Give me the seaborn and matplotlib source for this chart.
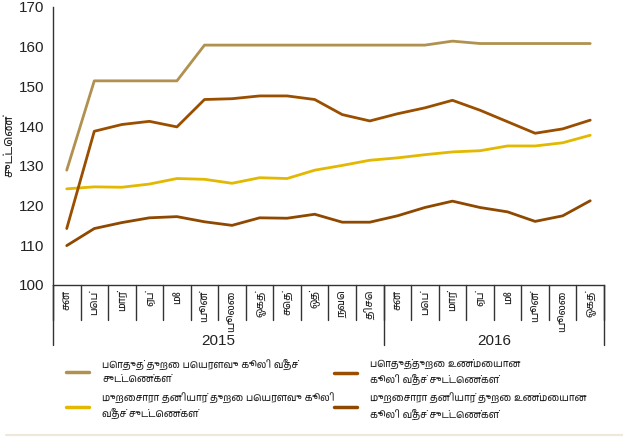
"""
Wage rate indices, public sector vs informal private sector (2015-2016).
Line chart with Tamil month labels and a two-column legend below.
"""

import pandas as pd
import matplotlib
matplotlib.use('Agg')
import matplotlib.pyplot as plt
import seaborn as sns
from matplotlib import font_manager
from matplotlib.ft2font import FT2Font

# --- data ---
months = ['சன', 'பெப்', 'மார்', 'ஏப்', 'மே', 'யூன்', 'யூலை', 'ஓகத்', 'செத்', 'ஒத்', 'நவெ', 'திசெ',
          'சன', 'பெப்', 'மார்', 'ஏப்', 'மே', 'யூன்', 'யூலை', 'ஓகத்']
years = ['2015', '2016']
months_per_year = [12, 8]

public_nominal = [128.9, 151.4, 151.4, 151.4, 151.4, 160.4, 160.4, 160.4, 160.4, 160.4,
                  160.4, 160.4, 160.4, 160.4, 161.4, 160.8, 160.8, 160.8, 160.8, 160.8]
public_real = [114.2, 138.7, 140.4, 141.2, 139.8, 146.7, 146.9, 147.6, 147.6, 146.7,
               142.9, 141.3, 143.1, 144.6, 146.5, 144.0, 141.1, 138.2, 139.3, 141.5]
informal_nominal = [124.2, 124.7, 124.6, 125.4, 126.8, 126.6, 125.6, 127.0, 126.8, 128.9,
                    130.1, 131.4, 132.0, 132.8, 133.5, 133.8, 135.0, 135.0, 135.8, 137.7]
informal_real = [109.9, 114.2, 115.7, 116.9, 117.2, 115.9, 115.0, 116.9, 116.8, 117.8,
                 115.8, 115.8, 117.4, 119.5, 121.1, 119.5, 118.4, 116.0, 117.4, 121.2]

labels = ['பொதுத் துறை பெயரளவு கூலி வீதச்\nசுட்டெண்கள்',
          'முறைசாரா தனியார் துறை பெயரளவு கூலி\nவீதச் சுட்டெண்கள்',
          'பொதுத்துறை உண்மையான\nகூலி வீதச் சுட்டெண்கள்',
          'முறைசாரா தனியார் துறை உண்மையான\nகூலி வீதச் சுட்டெண்கள்']
series = [public_nominal, informal_nominal, public_real, informal_real]
colors = ['#B0914F', '#E2B800', '#9A4E00', '#8E4800']
y_label = 'சுட்டெண்'


def find_tamil_font():
    """Pick an installed font that covers Tamil, if any."""
    for f in font_manager.fontManager.ttflist:
        if 'Tamil' in f.name:
            return f.name
    for f in font_manager.fontManager.ttflist:
        try:
            if FT2Font(f.fname).get_char_index(0x0B95):
                return f.name
        except Exception:
            pass
    return None


sns.set_style('white')
tamil = find_tamil_font()
families = ['Liberation Sans'] + ([tamil] if tamil else []) + ['DejaVu Sans']
plt.rcParams['font.family'] = families
text_color = '#222222'

rows = []
for name, vals in zip(labels, series):
    for i, v in enumerate(vals):
        rows.append({'idx': i, 'value': v, 'series': name})
df = pd.DataFrame(rows)

fig = plt.figure(figsize=(6.23, 4.37), dpi=100)
ax = fig.add_axes([0.085, 0.348, 0.8845, 0.636])

sns.lineplot(data=df, x='idx', y='value', hue='series', hue_order=labels,
             palette=colors, linewidth=2, ax=ax, legend=False)

n = len(months)
ax.set_xlim(-0.5, n - 0.5)
ax.set_ylim(100, 170)
ax.set_yticks(range(100, 171, 10))
ax.tick_params(axis='y', length=4, width=1, color='#333333', labelsize=11,
               labelcolor=text_color, pad=2)
ax.set_xticks(range(n))
ax.set_xticklabels(months, rotation=90, fontsize=7.5, color=text_color, va='top')
ax.tick_params(axis='x', length=0, pad=4)
ax.set_xlabel('')
ax.set_ylabel(y_label, fontsize=8.5, color=text_color, labelpad=3)

for side in ['top', 'right']:
    ax.spines[side].set_visible(False)
for side in ['left', 'bottom']:
    ax.spines[side].set_color('#333333')
    ax.spines[side].set_linewidth(1)

# month cell separators and year separators below the axis
trans = ax.get_xaxis_transform()
for i in range(n + 1):
    ax.plot([i - 0.5, i - 0.5], [0, -0.125], transform=trans, color='#333333',
            lw=1, clip_on=False)
start = 0
for year, count in zip(years, months_per_year):
    ax.plot([start - 0.5, start - 0.5], [0, -0.215], transform=trans,
            color='#333333', lw=1, clip_on=False)
    ax.text(start - 0.5 + count / 2, -0.2, year, transform=trans, ha='center',
            va='center', fontsize=11, color=text_color)
    start += count
ax.plot([n - 0.5, n - 0.5], [0, -0.215], transform=trans, color='#333333',
        lw=1, clip_on=False)

# legend: two single-column legends placed side by side
handles = [plt.Line2D([], [], color=c, lw=2.5) for c in colors]
for col, x0 in enumerate([66 / 623, 334 / 623]):
    leg = fig.legend(handles[2 * col:2 * col + 2], labels[2 * col:2 * col + 2],
                     loc='upper left', bbox_to_anchor=(x0, 1 - 359 / 437),
                     ncol=1, frameon=False, fontsize=7, handlelength=2.4,
                     labelspacing=0.85, handletextpad=1.3, borderpad=0,
                     borderaxespad=0, labelcolor=text_color)
    for t in leg.get_texts():
        t.set_linespacing(1.5)

fig.add_artist(plt.Line2D([0.01, 1.0], [0.004, 0.004], color='#EFE7D9', lw=1.5))

fig.savefig('out.png', dpi=100)
